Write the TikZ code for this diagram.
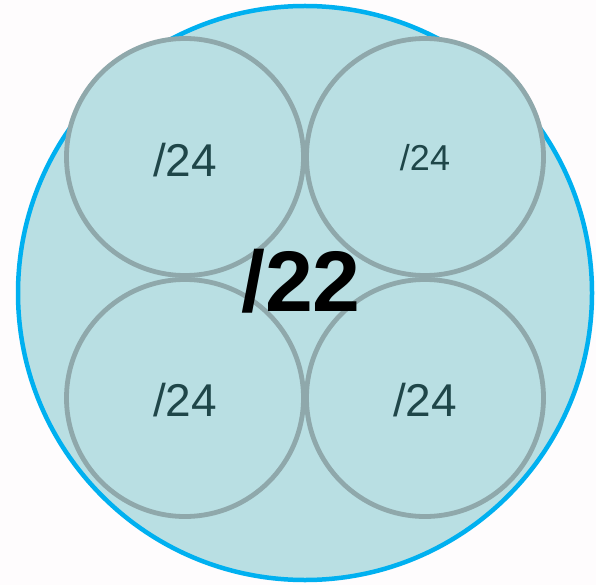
\documentclass[tikz,border=0pt]{standalone}
\usepackage{fontspec}
\setmainfont{Liberation Sans}
\definecolor{fillc}{HTML}{B9DFE3}
\definecolor{bigc}{HTML}{00B0F0}
\definecolor{smallc}{HTML}{8FA8AB}
\definecolor{txtc}{HTML}{1F4649}
\definecolor{bgc}{HTML}{FEFCFD}
\begin{document}
\begin{tikzpicture}[x=1pt,y=-1pt,
  subnet/.style={circle,draw=smallc,fill=fillc,line width=4.8pt,minimum size=237pt,inner sep=0pt},
  lab/.style={text=txtc,font=\fontsize{46}{50}\selectfont},
]
\fill[bgc] (0,0) rectangle (596,585);
\useasboundingbox (0,0) rectangle (596,585);
\node[circle,draw=bigc,fill=fillc,line width=4.5pt,minimum size=574pt,inner sep=0pt] (big) at (305,293) {};
\node[subnet] (tl) at (185,157) {};
\node[subnet] (tr) at (425,157) {};
\node[subnet] (bl) at (185,398) {};
\node[subnet] (br) at (425,398) {};
\node[lab] (ltl) at (185,160) {/24};
\node[lab,font=\fontsize{36}{40}\selectfont] (ltr) at (425,158) {/24};
\node[lab] (lbl) at (185,400) {/24};
\node[lab] (lbr) at (425,400) {/24};
\node[font=\fontsize{86}{90}\selectfont\bfseries,text=black] (l22) at (301,281) {/22};
\end{tikzpicture}
\end{document}
